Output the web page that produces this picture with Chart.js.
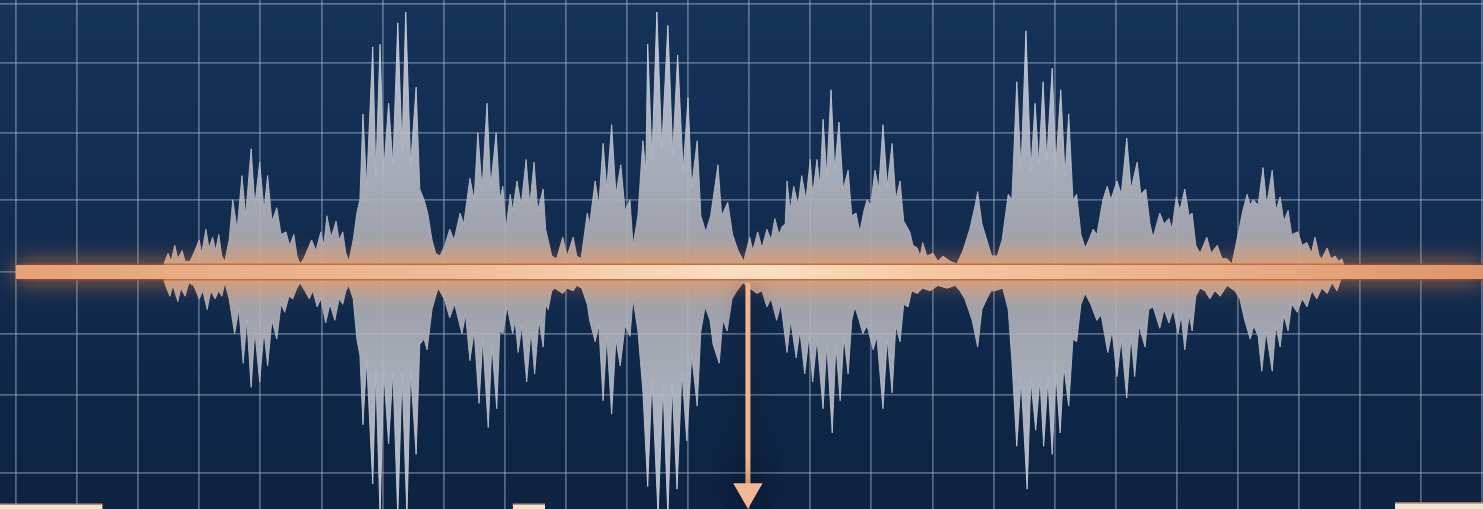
<!DOCTYPE html>
<html>
<head>
<meta charset="utf-8">
<title>Waveform</title>
<script src="https://cdn.jsdelivr.net/npm/chart.js@4.4.1/dist/chart.umd.min.js"></script>
<style>
  html, body { margin: 0; padding: 0; background: #10294a; overflow: hidden; }
  canvas { display: block; }
</style>
</head>
<body>
<canvas id="wave" width="1483" height="509"></canvas>
<script>
// time in ms (one grid column = 10 ms), amplitude in % of full scale (one grid row ~ 25 %)
const upperTime = [
  23.9, 24.4, 24.9, 25.4, 26.0, 26.5, 27.2, 27.7, 28.5, 29.3, 30.0, 30.4, 31.1, 31.6, 32.2, 32.7, 33.2, 33.7, 34.2,
  34.9, 35.5, 36.2, 37.0, 37.6, 38.5, 39.1, 39.9, 40.6, 41.2, 41.9, 42.7, 43.4, 44.2, 44.8, 45.5, 46.0, 46.5,
  47.1, 48.4, 49.1, 49.9, 50.4, 50.9, 51.6, 52.4, 52.9, 53.5, 54.0, 54.5,
  55.2, 55.8, 56.3, 56.8, 57.4, 58.4, 58.9, 59.6, 60.2, 61.0, 61.7, 62.5, 63.2, 63.8, 64.6, 65.5, 66.1, 66.8, 67.4, 68.1, 68.7, 69.4,
  70.2, 71.0, 71.7, 72.7, 73.3, 74.3, 75.0, 75.6, 76.3, 77.1, 77.7, 78.6, 79.2, 79.7, 80.2, 80.9, 81.3, 82.0, 82.7, 83.5, 84.1, 84.8,
  85.4, 86.3, 86.7, 87.1, 87.7, 88.5, 89.5, 90.2, 91.2, 91.8, 92.5,
  93.5, 93.9, 94.8, 95.4, 96.1, 96.7, 97.5, 98.2, 99.0, 99.7, 100.5, 101.0,
  101.8, 102.6, 103.1, 103.4, 104.1, 104.9, 105.7, 106.7, 107.5, 108.3, 109.2, 110.0, 110.6, 111.5, 112.1, 112.9, 113.7, 114.9,
  115.5, 116.5, 117.3, 118.2, 119.1,
  120.1, 120.6, 121.4, 122.1, 122.9, 123.6, 124.2, 124.9, 125.4, 125.9, 126.2, 126.7, 127.3, 128.0, 128.6, 129.3, 130.0, 130.4,
  131.1, 131.6, 132.1, 132.7, 133.4, 134.0, 134.7, 135.4, 136.2, 136.8, 137.5, 138.1, 138.8, 139.3, 139.9, 140.6, 141.2, 141.9,
  142.6, 143.4, 144.0, 144.7, 145.3, 146.3, 146.8, 147.5, 148.0, 148.4, 149.1, 150.1, 150.9, 151.7, 152.9, 154.0,
  155.0, 156.1, 157.0, 157.4, 158.1, 158.9, 159.7, 160.6, 161.4, 162.4, 163.0, 163.8, 164.5, 165.3, 166.1, 166.8, 167.4, 168.1,
  168.7, 169.6, 170.2, 171.0, 171.7, 172.3, 173.0, 173.6, 174.3, 175.0, 175.6, 176.3, 176.9, 177.9, 178.6, 179.2, 180.2, 180.9,
  181.8, 182.5, 183.5, 184.1, 184.9, 185.6, 186.1, 187.2, 187.9, 188.7, 189.2, 189.9, 190.5, 191.3, 192.0, 192.5, 193.1, 193.8,
  194.9, 195.6, 196.6, 197.4, 198.2, 199.0,
  200.0, 200.8, 201.5, 202.0, 202.5, 203.3, 204.1, 204.7, 205.6, 206.2, 206.9, 207.5, 208.2, 208.8, 209.8, 210.5, 211.3, 212.0,
  212.6, 213.3, 213.7, 214.6, 215.2, 215.9, 216.5, 217.0, 217.7
];
const upperAmp = [
  0, 4, 7, 4, 10, 5, 8, 4, 4, 8, 12, 7, 16, 9, 13, 8, 14, 6, 4,
  12, 27, 16, 36, 21, 46, 25, 41, 23, 36, 19, 24, 14, 15, 10, 14, 6, 3,
  5, 12, 8, 15, 10, 21, 13, 19, 12, 15, 7, 4,
  12, 22, 27, 59, 32, 84, 36, 85, 38, 63, 40, 93, 46, 97, 40, 69, 31, 27, 22, 12, 7, 6,
  10, 16, 12, 22, 18, 35, 27, 52, 31, 63, 32, 52, 27, 32, 16, 29, 23, 34, 25, 42, 25, 41,
  23, 31, 16, 12, 6, 5, 13, 6, 13, 6, 5,
  22, 18, 34, 25, 48, 31, 55, 29, 40, 23, 27, 10,
  21, 49, 38, 85, 42, 97, 46, 92, 44, 81, 38, 65, 32, 49, 21, 15, 21, 40,
  21, 26, 14, 8, 4,
  13, 8, 15, 9, 16, 12, 20, 14, 17, 18, 34, 23, 32, 25, 36, 27, 42, 29,
  42, 32, 57, 36, 68, 38, 56, 31, 38, 21, 22, 15, 23, 27, 25, 38, 31, 55,
  32, 48, 27, 34, 19, 15, 10, 9, 6, 11, 6, 7, 4, 6, 4, 3,
  8, 16, 25, 30, 18, 12, 6, 6, 12, 29, 27, 71, 38, 90, 38, 63, 40, 71,
  42, 76, 40, 68, 36, 59, 27, 29, 14, 9, 12, 16, 14, 27, 32, 27, 34, 29,
  50, 31, 41, 29, 31, 18, 13, 22, 18, 20, 16, 28, 23, 31, 21, 22, 10, 7,
  13, 7, 10, 5, 5, 3,
  14, 23, 29, 25, 27, 25, 39, 25, 38, 23, 28, 19, 23, 14, 15, 10, 11, 7,
  13, 6, 5, 9, 5, 6, 4, 5, 0
];
const lowerTime = [
  23.9, 24.5, 25.2, 25.7, 26.5, 27.0, 27.7, 28.3, 29.1, 30.0, 30.6, 31.3, 31.9, 32.6, 33.2, 33.7, 34.2,
  34.9, 35.8, 36.5, 37.2, 37.8, 38.5, 39.1, 39.9, 40.6, 41.2, 41.9, 42.7, 43.4, 44.0, 44.7, 45.3, 46.0, 46.5,
  47.3, 48.0, 48.6, 49.3, 49.9, 50.7, 51.4, 52.2, 52.9, 53.5, 54.0, 54.5,
  55.2, 55.8, 56.3, 56.8, 57.4, 58.4, 58.9, 59.6, 60.2, 61.0, 61.7, 62.5, 63.2, 64.0, 64.6, 65.5, 66.1, 66.8, 67.3, 68.1, 68.7, 69.1,
  70.1, 71.0, 71.8, 73.0, 73.6, 74.3, 75.0, 75.8, 76.4, 77.3, 77.9, 78.7, 79.2, 79.7, 80.4, 81.3, 81.7, 82.2, 82.8, 83.6,
  84.3, 84.9, 85.6, 86.3, 86.7, 87.1, 87.7, 88.2, 89.5, 90.2, 91.2, 91.8, 92.6,
  93.5, 93.9, 94.8, 95.4, 96.1, 96.7, 97.5, 98.2, 98.9, 99.7, 100.5, 101.0,
  101.8, 102.6, 103.4, 104.1, 105.1, 105.9, 106.7, 107.4, 108.2, 109.0, 109.8, 110.6, 111.5, 112.1, 112.8, 113.6, 114.1, 115.1,
  115.7, 116.4, 117.2, 118.0, 119.0,
  120.1, 121.3, 122.1, 122.9, 123.6, 124.5, 125.2, 126.2, 126.8, 127.7, 128.3, 129.1, 129.8, 130.4, 131.1, 132.1, 132.7, 133.6,
  134.2, 134.9, 135.5, 136.2, 136.8, 137.3, 138.0, 138.6, 139.3, 140.3, 140.9, 141.9, 142.6, 143.4, 144.0, 144.7, 145.3, 146.0,
  146.6, 147.5, 148.4, 149.6, 150.9, 152.4, 153.7, 154.5, 155.3, 156.5, 157.4, 158.1, 158.9, 159.6, 160.2, 161.5,
  162.4, 163.0, 163.8, 164.5, 165.5, 166.1, 166.9, 167.6, 168.2, 168.9, 169.6, 170.2, 170.9, 171.5, 172.3, 173.0, 173.6, 174.3,
  175.0, 175.9, 176.9, 177.6, 178.7, 179.4, 180.2, 180.9, 181.8, 182.5, 183.1, 183.8, 184.8, 185.4, 186.1, 187.2, 187.9, 188.7,
  189.4, 190.2, 190.7, 191.3, 192.0, 192.5, 193.1, 193.8, 194.6, 195.4, 196.2, 197.1, 198.2, 199.5, 200.3,
  201.1, 202.0, 202.6, 203.3, 203.9, 204.6, 205.6, 206.2, 206.9, 207.5, 208.2, 208.8, 209.7, 210.5, 211.3, 212.1, 212.9, 213.7,
  214.6, 215.4, 216.2, 216.8, 217.7
];
const lowerAmp = [
  0, -5, -9, -5, -11, -6, -9, -4, -5, -10, -7, -14, -7, -10, -7, -9, -4,
  -10, -23, -14, -34, -18, -43, -22, -41, -22, -35, -18, -25, -12, -15, -9, -10, -6, -4,
  -7, -10, -7, -13, -10, -19, -12, -18, -10, -12, -7, -5,
  -10, -25, -31, -57, -33, -79, -37, -91, -37, -64, -37, -91, -38, -91, -37, -68, -27, -25, -29, -14, -9, -6,
  -10, -17, -12, -23, -16, -33, -22, -49, -25, -58, -27, -51, -22, -23, -13, -23, -18, -30, -20, -41,
  -22, -38, -18, -28, -12, -14, -7, -6, -8, -6, -7, -5, -6,
  -12, -18, -26, -20, -48, -24, -53, -25, -35, -20, -24, -10,
  -22, -44, -80, -40, -91, -42, -91, -42, -81, -37, -63, -31, -50, -22, -13, -18, -27, -34,
  -18, -22, -10, -7, -4,
  -6, -8, -7, -13, -10, -18, -12, -30, -18, -32, -22, -38, -24, -41, -25, -51, -27, -60,
  -27, -48, -24, -38, -18, -13, -18, -23, -20, -29, -24, -51, -25, -45, -20, -26, -12, -13,
  -7, -8, -6, -7, -5, -6, -5, -7, -10, -18, -28, -14, -10, -7, -7, -6,
  -14, -33, -65, -40, -81, -40, -59, -40, -65, -40, -68, -38, -60, -35, -50, -25, -26, -12,
  -8, -12, -18, -16, -30, -22, -39, -25, -47, -24, -39, -20, -28, -14, -13, -21, -14, -19,
  -14, -23, -16, -29, -16, -22, -9, -6, -7, -10, -7, -9, -5, -7, -10,
  -18, -25, -20, -24, -37, -22, -37, -20, -28, -16, -22, -12, -15, -10, -13, -7, -10, -6,
  -8, -4, -7, -3, 0
];

// grid: columns every 10 ms, rows as they sit in the picture
const gridCols = [0, 10, 20, 30, 40, 50, 60, 70, 80, 90, 100, 110, 120, 130, 140, 150, 160, 170, 180, 190, 200, 210, 220, 230, 240];
const gridRows = [100, 78, 52, 27, 0, -23, -46, -75];
const timeRange = [-2.6, 240.1];
const ampRange = [-88.4, 101.5];

// zero line, marker arrow and the cut-off label boxes along the bottom edge
const baselineSpan = [0, 240.1];
const markerTime = 119.8;
const markerAmp = [-4, -82];
const boxStart = [-3, 81.3, 225.7];
const boxEnd = [14.2, 86.6, 241];
const boxTop = [-86.6, -86.6, -86.2];

const toPoints = (xs, ys) => xs.map((x, i) => ({ x, y: ys[i] }));

const waveFill = (chart) => {
  const { ctx, chartArea, scales } = chart;
  if (!chartArea) return 'rgba(185,190,200,0.9)';
  const yTop = scales.y.getPixelForValue(100);
  const yBot = scales.y.getPixelForValue(-100);
  const stop = (v) => (scales.y.getPixelForValue(v) - yTop) / (yBot - yTop);
  const g = ctx.createLinearGradient(0, yTop, 0, yBot);
  g.addColorStop(0, 'rgba(204,210,222,0.93)');
  g.addColorStop(stop(40), 'rgba(182,186,196,0.9)');
  g.addColorStop(stop(14), 'rgba(176,176,182,0.9)');
  g.addColorStop(stop(5), 'rgba(200,172,152,0.93)');
  g.addColorStop(stop(0), 'rgba(232,184,148,0.95)');
  g.addColorStop(stop(-5), 'rgba(200,172,152,0.93)');
  g.addColorStop(stop(-14), 'rgba(176,176,182,0.9)');
  g.addColorStop(stop(-40), 'rgba(182,186,196,0.9)');
  g.addColorStop(1, 'rgba(204,210,222,0.93)');
  return g;
};

const barColor = (chart) => {
  const { ctx, chartArea, scales } = chart;
  if (!chartArea) return '#eeb189';
  const g = ctx.createLinearGradient(scales.x.getPixelForValue(0), 0, scales.x.getPixelForValue(240), 0);
  g.addColorStop(0, '#e6a276');
  g.addColorStop(0.3, '#efbc95');
  g.addColorStop(0.5, '#fde2c2');
  g.addColorStop(0.62, '#f5c9a1');
  g.addColorStop(1, '#e0946a');
  return g;
};

const backdrop = {
  id: 'backdrop',
  beforeDraw(chart) {
    const { ctx, width, height } = chart;
    const g = ctx.createLinearGradient(0, 0, 0, height);
    g.addColorStop(0, '#15325a');
    g.addColorStop(0.55, '#112b4d');
    g.addColorStop(1, '#0c2341');
    ctx.save();
    ctx.fillStyle = g;
    ctx.fillRect(0, 0, width, height);
    ctx.restore();
  }
};

const glow = {
  id: 'glow',
  beforeDatasetDraw(chart, args) {
    const ds = chart.data.datasets[args.index];
    if (!ds.glow) return;
    chart.ctx.save();
    chart.ctx.shadowColor = ds.glow;
    chart.ctx.shadowBlur = 24;
  },
  afterDatasetDraw(chart, args) {
    if (chart.data.datasets[args.index].glow) chart.ctx.restore();
  }
};

const gridScale = (range, values) => ({
  type: 'linear',
  min: range[0],
  max: range[1],
  afterBuildTicks: (scale) => { scale.ticks = values.map((value) => ({ value })); },
  grid: { color: 'rgba(168,184,206,0.45)', lineWidth: 1.8, drawTicks: false },
  border: { display: false },
  ticks: { display: false }
});

const boxSets = boxStart.map((start, i) => ({
  data: [{ x: start, y: boxTop[i] }, { x: boxEnd[i], y: boxTop[i] }],
  borderColor: '#c88d68',
  borderWidth: 1.5,
  backgroundColor: '#f2e4d3',
  fill: 'start',
  pointRadius: 0,
  order: 0
}));

new Chart(document.getElementById('wave'), {
  type: 'line',
  data: {
    datasets: [
      {
        data: [{ x: markerTime, y: markerAmp[0] }, { x: markerTime, y: markerAmp[1] }],
        borderColor: '#f1b48b',
        borderWidth: 5,
        pointRadius: [0, 17],
        pointStyle: 'triangle',
        pointRotation: 180,
        pointBackgroundColor: '#f3b994',
        pointBorderWidth: 0,
        glow: 'rgba(20,10,10,0.6)',
        order: 0
      },
      ...boxSets,
      {
        data: toPoints(baselineSpan, [0, 0]),
        borderColor: (c) => barColor(c.chart),
        borderWidth: 14,
        borderCapStyle: 'butt',
        pointRadius: 0,
        glow: 'rgba(255,140,70,0.85)',
        order: 1
      },
      {
        data: toPoints(baselineSpan, [0, 0]),
        borderColor: 'rgba(110,55,35,0.6)',
        borderWidth: 17,
        borderCapStyle: 'butt',
        pointRadius: 0,
        order: 2
      },
      {
        data: toPoints(upperTime, upperAmp),
        borderColor: (c) => waveFill(c.chart),
        backgroundColor: (c) => waveFill(c.chart),
        borderWidth: 1,
        fill: 'origin',
        tension: 0,
        pointRadius: 0,
        order: 3
      },
      {
        data: toPoints(lowerTime, lowerAmp),
        borderColor: (c) => waveFill(c.chart),
        backgroundColor: (c) => waveFill(c.chart),
        borderWidth: 1,
        fill: 'origin',
        tension: 0,
        pointRadius: 0,
        order: 3
      }
    ]
  },
  options: {
    responsive: false,
    animation: false,
    events: [],
    layout: { padding: 0, autoPadding: false },
    plugins: { legend: { display: false }, tooltip: { enabled: false } },
    scales: {
      x: gridScale(timeRange, gridCols),
      y: gridScale(ampRange, gridRows)
    }
  },
  plugins: [backdrop, glow]
});
</script>
</body>
</html>
